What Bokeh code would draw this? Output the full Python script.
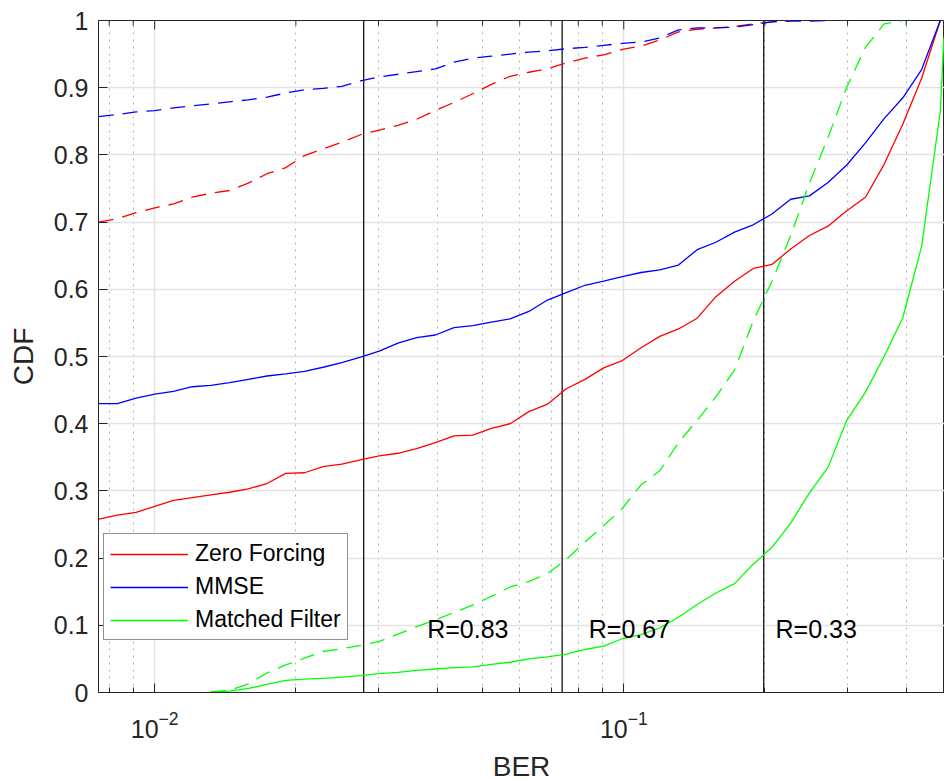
from bokeh.plotting import figure
from bokeh.models import FixedTicker, Legend, LegendItem, Range1d, LogTickFormatter
from bokeh.core.properties import value
from bokeh.embed import file_html
from bokeh.resources import INLINE

# BER grid at which the empirical CDFs are evaluated
ber = [0.007599, 0.008325, 0.009128, 0.010004, 0.010966, 0.012023, 0.013177,
       0.014445, 0.015835, 0.017357, 0.019029, 0.020857, 0.022861, 0.025056,
       0.027470, 0.030111, 0.033007, 0.036178, 0.039659, 0.043471, 0.047643,
       0.052227, 0.057250, 0.062754, 0.068784, 0.075405, 0.082660, 0.090609,
       0.099312, 0.108869, 0.119344, 0.130797, 0.143385, 0.157180, 0.172305,
       0.188803, 0.207014, 0.226930, 0.248768, 0.272602, 0.298815, 0.327550,
       0.358926, 0.393550, 0.431519, 0.472933]

# CDF of the BER, solid curves
zf = [0.258, 0.264, 0.268, 0.277, 0.286, 0.290, 0.294, 0.298, 0.303, 0.311,
      0.326, 0.327, 0.336, 0.340, 0.346, 0.352, 0.356, 0.363, 0.372, 0.382,
      0.383, 0.393, 0.400, 0.418, 0.429, 0.452, 0.466, 0.483, 0.494, 0.513,
      0.530, 0.541, 0.557, 0.589, 0.612, 0.631, 0.637, 0.660, 0.680, 0.694,
      0.717, 0.737, 0.786, 0.846, 0.914, 1.0]
mmse = [0.430, 0.430, 0.438, 0.444, 0.448, 0.455, 0.457, 0.461, 0.466, 0.471,
        0.474, 0.478, 0.484, 0.491, 0.499, 0.508, 0.520, 0.528, 0.532, 0.543,
        0.546, 0.551, 0.556, 0.567, 0.584, 0.595, 0.606, 0.612, 0.619, 0.625,
        0.629, 0.636, 0.659, 0.670, 0.685, 0.696, 0.712, 0.734, 0.739, 0.759,
        0.785, 0.818, 0.854, 0.885, 0.927, 1.0]
mf = [0.0, 0.0, 0.0, 0.0, 0.0, 0.0, 0.001, 0.002, 0.006, 0.012,
      0.018, 0.020, 0.021, 0.023, 0.025, 0.028, 0.030, 0.033, 0.035, 0.037,
      0.038, 0.042, 0.045, 0.050, 0.053, 0.057, 0.064, 0.069, 0.080, 0.086,
      0.096, 0.112, 0.131, 0.148, 0.162, 0.191, 0.216, 0.252, 0.297, 0.335,
      0.405, 0.447, 0.500, 0.558, 0.664, 0.865]
# matched filter curve continues past the last grid point
mf_tail_ber = [0.4812, 0.4900]
mf_tail = [0.972, 1.0]

# CDF of the BER, dashed curves
zf_dashed = [0.700, 0.705, 0.714, 0.721, 0.727, 0.737, 0.743, 0.747, 0.758, 0.772,
             0.781, 0.799, 0.809, 0.819, 0.830, 0.837, 0.844, 0.853, 0.866, 0.878,
             0.891, 0.905, 0.917, 0.923, 0.928, 0.937, 0.944, 0.949, 0.957, 0.962,
             0.971, 0.983, 0.987, 0.989, 0.991, 0.995, 0.998, 1.0, 1.0, 1.0,
             1.0, 1.0, 1.0, 1.0, 1.0, 1.0]
mmse_dashed = [0.857, 0.860, 0.864, 0.866, 0.870, 0.873, 0.876, 0.879, 0.882, 0.886,
               0.892, 0.897, 0.899, 0.902, 0.910, 0.916, 0.920, 0.924, 0.928, 0.938,
               0.944, 0.947, 0.950, 0.953, 0.955, 0.958, 0.960, 0.963, 0.966, 0.968,
               0.974, 0.986, 0.989, 0.989, 0.990, 0.994, 0.998, 0.999, 0.999, 1.0,
               1.0, 1.0, 1.0, 1.0, 1.0, 1.0]
mf_dashed = [0.0, 0.0, 0.0, 0.0, 0.0, 0.0, 0.001, 0.003, 0.013, 0.029,
             0.041, 0.051, 0.061, 0.065, 0.070, 0.076, 0.087, 0.098, 0.108, 0.119,
             0.130, 0.143, 0.157, 0.165, 0.177, 0.198, 0.224, 0.248, 0.274, 0.309,
             0.330, 0.372, 0.405, 0.440, 0.480, 0.553, 0.612, 0.680, 0.758, 0.826,
             0.901, 0.960, 0.995, 1.0, 1.0, 1.0]

# BER thresholds for the three code rates
thresholds = [0.0279, 0.0739, 0.1988]
rate_labels = ["R=0.83", "R=0.67", "R=0.33"]
rate_label_x = [0.0381, 0.0842, 0.2106]
rate_label_y = [0.095, 0.095, 0.095]

yticks = [0.0, 0.1, 0.2, 0.3, 0.4, 0.5, 0.6, 0.7, 0.8, 0.9, 1.0]
ytick_labels = ["0", "0.1", "0.2", "0.3", "0.4", "0.5", "0.6", "0.7", "0.8", "0.9", "1"]
xticks = [0.01, 0.1]
xminor = [0.008, 0.009, 0.02, 0.03, 0.04, 0.05, 0.06, 0.07, 0.08, 0.09,
          0.2, 0.3, 0.4]

FONT = "Liberation Sans"
AX = "#262626"
RED, BLUE, GREEN = "#ff0000", "#0000ff", "#00ff00"


def trimmed(xs, ys):
    """Drop the flat run at 0 before a curve starts and at 1 after it ends."""
    start = 0
    while start < len(ys) - 1 and ys[start] <= 0.0:
        start += 1
    end = len(ys) - 1
    while end > start and ys[end - 1] >= 1.0:
        end -= 1
    return xs[start:end + 1], ys[start:end + 1]


p = figure(frame_width=846, frame_height=672,
           x_axis_type="log",
           x_range=Range1d(0.00759, 0.4828), y_range=Range1d(0.0, 1.0),
           min_border_left=98, min_border_right=0,
           min_border_top=20, min_border_bottom=88,
           output_backend="svg", toolbar_location=None)
p.background_fill_color = "white"
p.border_fill_color = "white"
p.outline_line_color = AX
p.outline_line_width = 1

xax = p.below[0]
yax = p.left[0]

# grids
xax.ticker = FixedTicker(ticks=xticks, minor_ticks=xminor)
yax.ticker = FixedTicker(ticks=yticks)
p.ygrid.grid_line_color = "#e3e3e3"
p.ygrid.grid_line_width = 1.5
p.xgrid.grid_line_color = "#e3e3e3"
p.xgrid.grid_line_width = 1.5
p.xgrid.minor_grid_line_color = "#b4b4b4"
p.xgrid.minor_grid_line_dash = "2 5"
p.xgrid.minor_grid_line_width = 1

# axes
for ax in (xax, yax):
    ax.axis_line_color = AX
    ax.major_tick_line_color = AX
    ax.minor_tick_line_color = AX
    ax.major_tick_out = 0
    ax.major_tick_in = 9
    ax.minor_tick_out = 0
    ax.minor_tick_in = 5
    ax.major_label_text_font = FONT
    ax.major_label_text_font_size = "25px"
    ax.major_label_text_color = AX
    ax.axis_label_text_font = FONT
    ax.axis_label_text_font_size = "28px"
    ax.axis_label_text_font_style = "normal"
    ax.axis_label_text_color = AX
yax.minor_tick_line_color = None
yax.major_label_overrides = {t: s for t, s in zip(yticks, ytick_labels)}
yax.major_label_standoff = 10
yax.axis_label = "CDF"
yax.axis_label_standoff = 12
xax.formatter = LogTickFormatter()
xax.major_label_standoff = 18
xax.axis_label = "BER"
xax.axis_label_standoff = 10

# rate thresholds
p.segment(x0=thresholds, y0=[0.0] * 3, x1=thresholds, y1=[1.0] * 3,
          line_color="black", line_width=1.2)

dash = "15 9"
series = [
    (zf, RED, "solid"), (mmse, BLUE, "solid"),
    (zf_dashed, RED, dash), (mmse_dashed, BLUE, dash), (mf_dashed, GREEN, dash),
]
renderers = {}
for ys, color, style in series:
    xs_t, ys_t = trimmed(ber, ys)
    r = p.line(xs_t, ys_t, line_color=color, line_width=1.3, line_dash=style)
    renderers[id(ys)] = r

mx, my = trimmed(ber + mf_tail_ber, mf + mf_tail)
r_mf = p.line(mx, my, line_color=GREEN, line_width=1.3)

# short tick marks hanging down from the top edge of the box
p.segment(x0=xticks, y0=[1.0] * len(xticks), x1=xticks, y1=[1.0 - 9 / 672] * len(xticks),
          line_color=AX, line_width=1)
p.segment(x0=xminor, y0=[1.0] * len(xminor), x1=xminor, y1=[1.0 - 5 / 672] * len(xminor),
          line_color=AX, line_width=1)

p.text(x=rate_label_x, y=rate_label_y, text=rate_labels,
       text_font=value(FONT), text_font_size="25px", text_color="black",
       text_align="left", text_baseline="middle")

legend = Legend(items=[
    LegendItem(label="Zero Forcing", renderers=[renderers[id(zf)]]),
    LegendItem(label="MMSE", renderers=[renderers[id(mmse)]]),
    LegendItem(label="Matched Filter", renderers=[r_mf]),
], location=(5, 52))
legend.label_text_font = FONT
legend.label_text_font_size = "23px"
legend.label_text_color = "black"
legend.glyph_width = 78
legend.glyph_height = 20
legend.label_height = 20
legend.label_standoff = 7
legend.spacing = 6
legend.padding = 6
legend.margin = 0
legend.border_line_color = AX
legend.border_line_width = 1
legend.background_fill_color = "white"
legend.background_fill_alpha = 1.0
p.add_layout(legend, "center")

open("out.html", "w").write(file_html(p, INLINE))
